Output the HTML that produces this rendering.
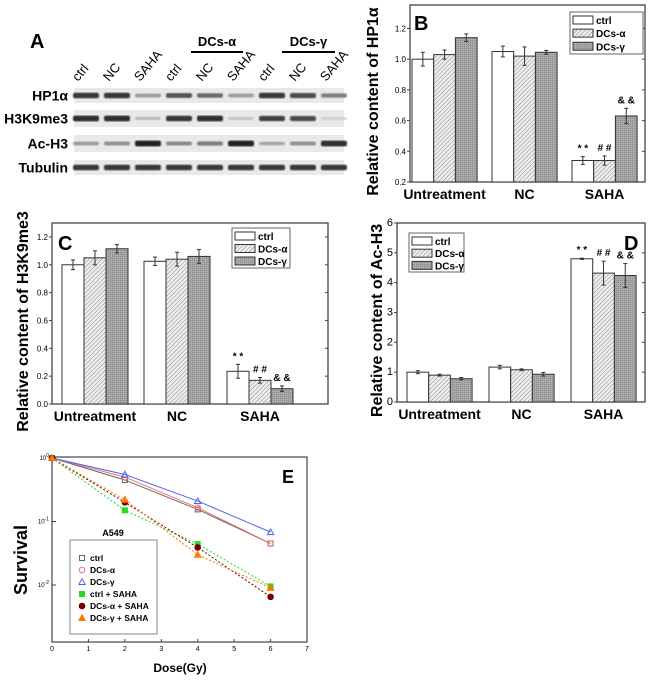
<!DOCTYPE html>
<html><head><meta charset="utf-8"><style>
body{margin:0;background:#fff;}
svg{display:block;font-family:"Liberation Sans",Arial,sans-serif;}
</style></head><body>
<svg id="fig" width="650" height="682" viewBox="0 0 650 682" xmlns="http://www.w3.org/2000/svg">
<defs>
<pattern id="hatch" width="3" height="3" patternUnits="userSpaceOnUse" patternTransform="rotate(45)"><rect width="3" height="3" fill="#eee"/><line x1="0" y1="0" x2="0" y2="3" stroke="#888" stroke-width="1"/></pattern>
<pattern id="grid" width="2" height="2" patternUnits="userSpaceOnUse"><rect width="2" height="2" fill="#aaa"/><rect width="1" height="1" fill="#888"/></pattern>
<filter id="blur"><feGaussianBlur stdDeviation="0.8"/></filter>
</defs>
<g id="panelA"></g>
<g id="panelB"></g>
<g id="panelC"></g>
<g id="panelD"></g>
<g id="panelE"></g>
</svg>
<script>
const NS="http://www.w3.org/2000/svg";
// ---- data ----
const groups=["Untreatment","NC","SAHA"];
const seriesNames=["ctrl","DCs-α","DCs-γ"];
const hp1Values=[[1.0,1.03,1.14],[1.05,1.02,1.045],[0.34,0.34,0.63]];
const hp1Err=[[0.045,0.03,0.025],[0.035,0.06,0.012],[0.025,0.03,0.05]];
const hp1Ticks=["0.2","0.4","0.6","0.8","1.0","1.2"];
const h3Values=[[1.0,1.05,1.115],[1.025,1.04,1.06],[0.235,0.17,0.11]];
const h3Err=[[0.035,0.05,0.03],[0.03,0.05,0.05],[0.05,0.02,0.02]];
const h3Ticks=["0.0","0.2","0.4","0.6","0.8","1.0","1.2"];
const acValues=[[1.0,0.9,0.78],[1.17,1.08,0.93],[4.8,4.32,4.24]];
const acErr=[[0.05,0.03,0.04],[0.06,0.03,0.06],[0.02,0.4,0.4]];
const acTicks=["0","1","2","3","4","5","6"];
const sigMarks=["* *","# #","& &"];
const doses=[0,2,4,6];
const survCtrl=[1,0.45,0.155,0.045];
const survAlpha=[1,0.5,0.165,0.045];
const survGamma=[1,0.55,0.21,0.068];
const survCtrlSaha=[1,0.15,0.044,0.0095];
const survAlphaSaha=[1,0.2,0.039,0.0065];
const survGammaSaha=[1,0.22,0.03,0.009];
const doseTicks=[0,1,2,3,4,5,6,7];
const blotRows=["HP1α","H3K9me3","Ac-H3","Tubulin"];
const laneLabels=["ctrl","NC","SAHA","ctrl","NC","SAHA","ctrl","NC","SAHA"];
const bandHP1=[0.85,0.85,0.35,0.7,0.6,0.35,0.85,0.75,0.5];
const bandH3K9=[0.9,0.9,0.2,0.85,0.9,0.15,0.8,0.75,0.1];
const bandAc=[0.35,0.4,0.95,0.45,0.5,0.95,0.3,0.4,0.9];
const bandTub=[0.85,0.85,0.85,0.85,0.85,0.85,0.85,0.85,0.85];

function el(parent,tag,attrs,text){const e=document.createElementNS(NS,tag);for(const k in attrs)e.setAttribute(k,attrs[k]);if(text!==undefined)e.textContent=text;parent.appendChild(e);return e;}
const fills=["#fff","url(#hatch)","url(#grid)"];

// ---- Panel A ----
(function(){
const g=document.getElementById('panelA');
let t=el(g,'text',{x:30,y:48,'font-size':20,'font-weight':'bold'},'A');


const lane0=86,laneW=31;
laneLabels.forEach((L,i)=>{const x=lane0+i*laneW;
 const lt=el(g,'text',{x:x-8,y:82,'font-size':13,transform:`rotate(-50 ${x-8} 82)`},L);
 
 });
[["DCs-α",191,243],["DCs-γ",282,335]].forEach(d=>{
 const tt=el(g,'text',{x:(d[1]+d[2])/2,y:46,'font-size':13,'font-weight':'bold','text-anchor':'middle'},d[0]);
 
 
 el(g,'line',{x1:d[1],x2:d[2],y1:52,y2:52,stroke:'#000','stroke-width':2});});
const rows=[[bandHP1,88,103],[bandH3K9,110,127],[bandAc,135,152],[bandTub,160,175]];
rows.forEach((r,ri)=>{
 const strip=el(g,'rect',{x:74,y:r[1],width:270,height:r[2]-r[1],fill:'#e9e9e9'});
 
 
 r[0].forEach((v,i)=>{const x=lane0+i*laneW;const c=Math.round(225-v*200);
  const h=2.5+v*3.5;
  const b=el(g,'rect',{x:x-13,y:(r[1]+r[2])/2-h/2,width:26,height:h,rx:2,fill:`rgb(${c},${c},${c})`,filter:'url(#blur)'});
  
  });
 const rl=el(g,'text',{x:68,y:(r[1]+r[2])/2+5,'font-size':14,'font-weight':'bold','text-anchor':'end'},blotRows[ri]);
 
 
});
})();

// ---- bar panels ----
function barPanel(id,cfg){
const g=document.getElementById(id);
const {x0,x1,yTop,yBot,vmin,vmax,values,errs,ticks,label,labelPos,legendPos,ytitle,ytitleX,tickFs,groupStarts,barW}=cfg;
const ys=v=>yBot-(v-vmin)/(vmax-vmin)*(yBot-yTop);
const frame=el(g,'rect',{x:x0,y:yTop,width:x1-x0,height:yBot-yTop,fill:'none',stroke:'#444','stroke-width':1.3});


ticks.forEach(tk=>{const y=ys(parseFloat(tk));
 el(g,'line',{x1:x0-3,x2:x0,y1:y,y2:y,stroke:'#444'});
 el(g,'line',{x1:x1,x2:x1-3,y1:y,y2:y,stroke:'#444'});
 const tl=el(g,'text',{x:x0-4,y:y+3,'font-size':tickFs,'text-anchor':'end'},tk);
 
 });
groups.forEach((gn,gi)=>{
 values[gi].forEach((v,si)=>{
  const bx=groupStarts[gi]+si*barW;
  const r=el(g,'rect',{x:bx,y:ys(v),width:barW,height:yBot-ys(v),fill:fills[si],stroke:'#333','stroke-width':1});
  
  
  const cx=bx+barW/2,e=errs[gi][si];
  el(g,'line',{x1:cx,x2:cx,y1:ys(v+e),y2:ys(v-e),stroke:'#333'});
  el(g,'line',{x1:cx-2,x2:cx+2,y1:ys(v+e),y2:ys(v+e),stroke:'#333'});
  el(g,'line',{x1:cx-2,x2:cx+2,y1:ys(v-e),y2:ys(v-e),stroke:'#333'});
  if(gi===2){const s=el(g,'text',{x:cx,y:ys(v+e)-5,'font-size':10,'font-weight':'bold','text-anchor':'middle'},sigMarks[si]);
   
   }
 });
 const gl=el(g,'text',{x:groupStarts[gi]+1.5*barW,y:yBot+17,'font-size':14,'font-weight':'bold','text-anchor':'middle'},gn);
 
 
});
const pl=el(g,'text',{x:labelPos[0],y:labelPos[1],'font-size':20,'font-weight':'bold'},label);


const [lx,ly,lw,lh]=legendPos;
const lb=el(g,'rect',{x:lx,y:ly,width:lw,height:lh,fill:'#fff',stroke:'#666'});


seriesNames.forEach((n,i)=>{const yy=ly+4+i*lh/3.2;
 el(g,'rect',{x:lx+3,y:yy,width:20,height:8,fill:fills[i],stroke:'#333'});
 const lt=el(g,'text',{x:lx+26,y:yy+8,'font-size':10,'font-weight':'bold'},n);
 
 });
const yt=el(g,'text',{x:ytitleX,y:(yTop+yBot)/2+8,'font-size':16,'font-weight':'bold','text-anchor':'middle',transform:`rotate(-90 ${ytitleX} ${(yTop+yBot)/2+8})`},ytitle);


}
barPanel('panelB',{x0:410,x1:645,yTop:5,yBot:182,vmin:0.2,vmax:1.353,values:hp1Values,errs:hp1Err,ticks:hp1Ticks,label:'B',labelPos:[414,30],legendPos:[570,12,73,42],ytitle:'Relative content of HP1α',ytitleX:378,tickFs:8,groupStarts:[412,492,572],barW:21.7});
barPanel('panelC',{x0:52,x1:328,yTop:223,yBot:404,vmin:0,vmax:1.3,values:h3Values,errs:h3Err,ticks:h3Ticks,label:'C',labelPos:[58,250],legendPos:[232,228,58,40],ytitle:'Relative content of H3K9me3',ytitleX:28,tickFs:8,groupStarts:[62,144,227],barW:22});
barPanel('panelD',{x0:397,x1:645,yTop:223,yBot:402,vmin:0,vmax:6,values:acValues,errs:acErr,ticks:acTicks,label:'D',labelPos:[624,250],legendPos:[409,233,55,39],ytitle:'Relative content of Ac-H3',ytitleX:382,tickFs:11,groupStarts:[407,489,571],barW:21.7});

// ---- Panel E ----
(function(){
const g=document.getElementById('panelE');
const x0=52,x1=307,yTop=457,yBot=642;
const xs=d=>x0+d/7*(x1-x0);
const ys=v=>458-Math.log10(v)*63.5;
const fr=el(g,'rect',{x:x0,y:yTop,width:x1-x0,height:yBot-yTop,fill:'none',stroke:'#444','stroke-width':1.2});


doseTicks.forEach(d=>{el(g,'line',{x1:xs(d),x2:xs(d),y1:yBot,y2:yBot-3,stroke:'#444'});
 const t=el(g,'text',{x:xs(d),y:yBot+9,'font-size':7,'text-anchor':'middle'},d);
 
 });
[0,-1,-2].forEach(p=>{const y=ys(Math.pow(10,p));
 el(g,'line',{x1:x0,x2:x0+4,y1:y,y2:y,stroke:'#444'});
 const t=el(g,'text',{x:x0-3,y:y+2,'font-size':6,'text-anchor':'end'});
 t.innerHTML='10<tspan dy="-3" font-size="5">'+p+'</tspan>';
 
 });
const series=[[survCtrl,'#666','sq',false,'ctrl'],[survAlpha,'#f07070','ci',false,'DCs-α'],[survGamma,'#5060f0','tr',false,'DCs-γ'],
 [survCtrlSaha,'#22dd22','sqf',true,'ctrl + SAHA'],[survAlphaSaha,'#700000','cif',true,'DCs-α + SAHA'],[survGammaSaha,'#ff7700','trf',true,'DCs-γ + SAHA']];
function marker(x,y,type,c){
 if(type[0]==='s')return el(g,'rect',{x:x-2.5,y:y-2.5,width:5,height:5,fill:type.endsWith('f')?c:'none',stroke:c});
 if(type[0]==='c')return el(g,'circle',{cx:x,cy:y,r:2.8,fill:type.endsWith('f')?c:'none',stroke:c});
 return el(g,'polygon',{points:`${x},${y-3.2} ${x-3.2},${y+2.5} ${x+3.2},${y+2.5}`,fill:type.endsWith('f')?c:'none',stroke:c});
}
series.forEach(s=>{
 const pts=doses.map((d,i)=>xs(d)+','+ys(s[0][i])).join(' ');
 const pl=el(g,'polyline',{points:pts,fill:'none',stroke:s[1],'stroke-width':1,'stroke-dasharray':s[3]?'2,2':'none'});
 
 
 doses.forEach((d,i)=>{const m=marker(xs(d),ys(s[0][i]),s[2],s[1]);
  
  });
});
const lg=el(g,'rect',{x:70,y:540,width:87,height:94,fill:'#fff',stroke:'#888'});


series.forEach((s,i)=>{const y=558+i*12;marker(82,y,s[2],s[1]);
 const t=el(g,'text',{x:90,y:y+3,'font-size':8.5,'font-weight':'bold'},s[4]);
 
 });
let t=el(g,'text',{x:113,y:536,'font-size':9,'font-weight':'bold','text-anchor':'middle'},'A549');


t=el(g,'text',{x:288,y:483,'font-size':18,'font-weight':'bold','text-anchor':'middle'},'E');


t=el(g,'text',{x:180,y:672,'font-size':12,'font-weight':'bold','text-anchor':'middle'},'Dose(Gy)');


t=el(g,'text',{x:27,y:560,'font-size':18,'font-weight':'bold','text-anchor':'middle',transform:'rotate(-90 27 560)'},'Survival');


})();
</script>
</body></html>
